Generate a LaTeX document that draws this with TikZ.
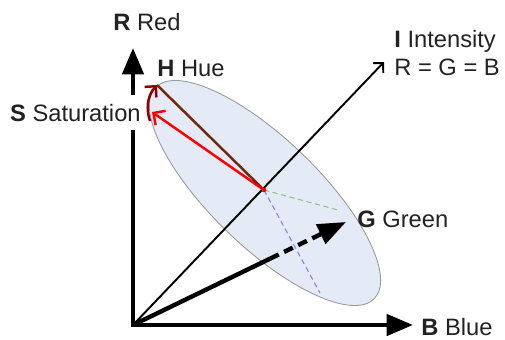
\documentclass[tikz,border=0pt]{standalone}
\usepackage{fontspec}
\setmainfont{Liberation Sans}
\usetikzlibrary{arrows.meta}
\definecolor{txt}{HTML}{222222}
\definecolor{ellfill}{HTML}{E5EBF6}
\definecolor{elldraw}{HTML}{999999}
\definecolor{huebrown}{HTML}{70280E}
\definecolor{huearc}{HTML}{8C0000}
\definecolor{dgreen}{HTML}{90C090}
\definecolor{dblue}{HTML}{8080FF}
\begin{document}
\begin{tikzpicture}[x=0.02cm,y=-0.02cm,
  font=\fontsize{13.5}{16}\selectfont,
  lbl/.style={text=txt, inner sep=0pt, anchor=base west},
  axis/.style={line width=2.5pt, line join=miter},
  bigtip/.style={-{Triangle[length=16pt,width=12pt]}},
  thinaxis/.style={line width=1.1pt, -{Straight Barb[length=4pt,width=8pt]}},
  guide/.style={line width=0.6pt, dash pattern=on 3pt off 2pt},
  hueline/.style={line width=1.4pt}]
\useasboundingbox (0,0) rectangle (505,339);

\coordinate (O) at (133,325);
\coordinate (Rtip) at (133,48);
\coordinate (Btip) at (413,325);
\coordinate (Itip) at (384,62);
\coordinate (C) at (264,190);
\coordinate (E) at (265,193);
\coordinate (Gtip) at (346,222);
\coordinate (Gmid) at (270,258.7);
\coordinate (Htip) at (157,85);
\coordinate (Stip) at (152,112);
\coordinate (Gend) at (338,210);
\coordinate (Bend) at (320,293);
\coordinate (arcstart) at (150,121);

% plane of constant intensity
\draw[fill=ellfill, draw=elldraw, line width=0.5pt, rotate around={-44:(E)}]
  (E) ellipse [x radius=3.04cm, y radius=1.08cm];

% guides in the plane
\draw[guide, dgreen] (C) -- (Gend);
\draw[guide, dblue] (C) -- (Bend);

% intensity axis
\draw[thinaxis] (O) -- (Itip);

% green vector
\draw[line width=2.5pt] (O) -- (Gmid);
\draw[line width=2.5pt, dash pattern=on 5.5pt off 3.4pt, bigtip] (Gmid) -- (Gtip);

% red and blue axes
\draw[axis, {Triangle[length=15pt,width=12pt]}-{Triangle[length=15pt,width=12pt]}] (Rtip) -- (O) -- (Btip);

% hue and saturation
\draw[hueline, huebrown] (C) -- (Htip);
\draw[hueline, red, -{Straight Barb[length=5pt,width=10pt]}] (C) -- (Stip);
\draw[hueline, huearc, -{Straight Barb[length=4.5pt,width=9pt]}] (arcstart) .. controls (146,109) and (147,96) .. (Htip);
\fill[red] (C) circle (1.3pt);

% labels
\node[lbl] (rlab) at (113,30) {\textbf{R} Red};
\node[lbl] (hlab) at (157,76) {\textbf{H} Hue};
\node[lbl, fill=white, inner xsep=1pt, inner ysep=5pt] (slab) at (8,121) {\textbf{S} Saturation};
\node[text=txt, inner sep=0pt, anchor=north west, align=left] (ilab) at (394,30) {\textbf{I} Intensity\\R = G = B};
\node[lbl] (glab) at (357,227) {\textbf{G} Green};
\node[lbl] (blab) at (421,335) {\textbf{B} Blue};
\end{tikzpicture}
\end{document}
